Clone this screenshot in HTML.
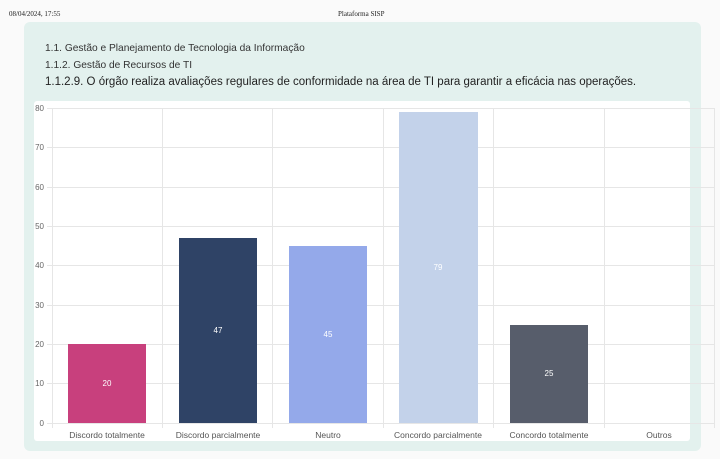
<!DOCTYPE html>
<html><head><meta charset="utf-8"><style>
body{margin:0;width:720px;height:459px;background:#fafafa;position:relative;overflow:hidden;font-family:"Liberation Sans",sans-serif}
.hdr{position:absolute;top:10px;font-family:"Liberation Serif",serif;font-size:7px;color:#222}
.panel{position:absolute;left:24px;top:22px;width:677px;height:429px;background:#e3f1ee;border-radius:6px}
.card{position:absolute;left:34px;top:101px;width:656px;height:340px;background:#fff;border-radius:3px}
.t{position:absolute;left:45px;color:#333;white-space:nowrap}
svg{position:absolute;left:0;top:0}
</style></head><body>
<div class="hdr" style="left:9px">08/04/2024, 17:55</div>
<div class="hdr" style="left:338px">Plataforma SISP</div>
<div class="panel"></div>
<div class="card"></div>
<div class="t" style="top:43px;font-size:10.2px">1.1. Gestão e Planejamento de Tecnologia da Informação</div>
<div class="t" style="top:60px;font-size:10.2px">1.1.2. Gestão de Recursos de TI</div>
<div class="t" style="top:76px;font-size:11.5px;color:#222">1.1.2.9. O órgão realiza avaliações regulares de conformidade na área de TI para garantir a eficácia nas operações.</div>
<svg width="720" height="459" font-family="Liberation Sans, sans-serif">
<g stroke="#e6e6e6" stroke-width="1">
<line x1="47" x2="715" y1="108.5" y2="108.5"/><line x1="47" x2="715" y1="147.5" y2="147.5"/>
<line x1="47" x2="715" y1="187.5" y2="187.5"/><line x1="47" x2="715" y1="226.5" y2="226.5"/>
<line x1="47" x2="715" y1="265.5" y2="265.5"/><line x1="47" x2="715" y1="305.5" y2="305.5"/>
<line x1="47" x2="715" y1="344.5" y2="344.5"/><line x1="47" x2="715" y1="383.5" y2="383.5"/>
<line x1="47" x2="715" y1="423.5" y2="423.5"/>
<line x1="52.5" x2="52.5" y1="108" y2="428"/><line x1="162.5" x2="162.5" y1="108" y2="428"/>
<line x1="272.5" x2="272.5" y1="108" y2="428"/><line x1="383.5" x2="383.5" y1="108" y2="428"/>
<line x1="493.5" x2="493.5" y1="108" y2="428"/><line x1="604.5" x2="604.5" y1="108" y2="428"/>
<line x1="714.5" x2="714.5" y1="108" y2="428"/>
</g>
<g font-size="8" fill="#666" text-anchor="end">
<text x="44" y="111">80</text><text x="44" y="150">70</text><text x="44" y="190">60</text>
<text x="44" y="229">50</text><text x="44" y="268">40</text><text x="44" y="308">30</text>
<text x="44" y="347">20</text><text x="44" y="386">10</text><text x="44" y="426">0</text>
</g>
<rect x="68" y="344" width="78" height="79" fill="#c8407d"/>
<rect x="179" y="238" width="78" height="185" fill="#2f4366"/>
<rect x="289" y="246" width="78" height="177" fill="#94a9ea"/>
<rect x="399" y="112" width="79" height="311" fill="#c3d2ea"/>
<rect x="510" y="325" width="78" height="98" fill="#575d6b"/>
<g font-size="8" fill="#fff" text-anchor="middle">
<text x="107" y="386">20</text><text x="218" y="333">47</text><text x="328" y="337">45</text>
<text x="438" y="270">79</text><text x="549" y="376">25</text>
</g>
<g font-size="8.5" fill="#555" text-anchor="middle">
<text x="107" y="438">Discordo totalmente</text><text x="218" y="438">Discordo parcialmente</text>
<text x="328" y="438">Neutro</text><text x="438" y="438">Concordo parcialmente</text>
<text x="549" y="438">Concordo totalmente</text><text x="659" y="438">Outros</text>
</g>
</svg>
</body></html>
